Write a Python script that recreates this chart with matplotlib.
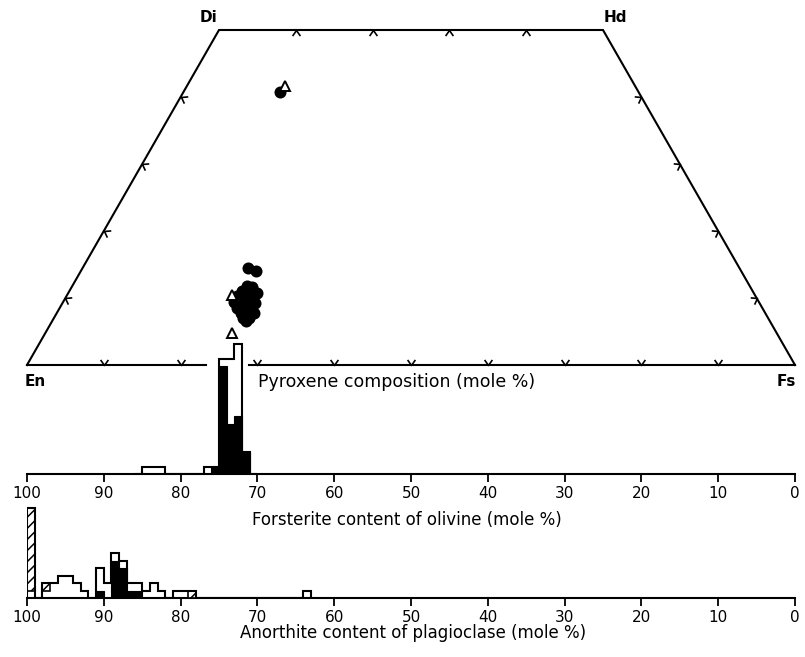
import numpy as np
import matplotlib
matplotlib.use("Agg")
import matplotlib.pyplot as plt
from matplotlib.markers import MarkerStyle
from matplotlib.path import Path
from matplotlib.transforms import Affine2D

# ---------------- data ----------------
# Pyroxene analyses (mole %): Wo and Fs
pyx_dot_wo = [11.8, 11.6, 11.0, 10.9, 10.8, 10.3, 10.2, 10.0, 9.4, 9.4, 9.3, 9.3,
              8.5, 8.5, 8.4, 7.8, 7.6, 7.8, 7.0, 7.0, 6.6, 14.5, 14.0, 40.7,
              10.6, 9.8, 9.0, 8.1, 7.3, 11.3]
pyx_dot_fs = [22.8, 23.5, 22.5, 23.6, 24.5, 22.2, 23.3, 24.4, 22.3, 23.2, 24.3, 25.1,
              23.1, 24.0, 25.0, 23.9, 24.8, 25.6, 24.6, 25.4, 25.2, 21.5, 22.8, 12.6,
              23.0, 23.8, 23.6, 24.4, 25.0, 23.0]
pyx_tri_wo = [41.6, 10.5, 4.8]
pyx_tri_fs = [12.8, 21.5, 24.3]

# Olivine histogram: bin lower edge (Fo), stacked counts
fo_bin = [71, 72, 73, 74, 75, 76, 82, 83, 84]
fo_black = [3, 8, 7, 15, 1, 0, 0, 0, 0]
fo_white = [0, 10, 9, 1, 0, 1, 1, 1, 1]

# Plagioclase histogram: bin lower edge (An), stacked counts
an_bin = [99, 97, 96, 95, 94, 93, 92, 90, 89, 88, 87, 86, 85, 84, 83, 82, 80, 79, 78, 63]
an_black = [0, 0, 0, 0, 0, 0, 0, 1, 0, 5, 4, 1, 1, 0, 0, 0, 0, 0, 0, 0]
an_white = [1, 1, 2, 3, 3, 2, 1, 3, 2, 1, 1, 1, 1, 1, 2, 1, 1, 1, 0, 1]
an_hatch = [11, 1, 0, 0, 0, 0, 0, 0, 0, 0, 0, 0, 0, 0, 0, 0, 0, 0, 1, 0]

scale_ticks = [100, 90, 80, 70, 60, 50, 40, 30, 20, 10, 0]

# ---------------- figure ----------------
W, H = 805, 657
fig = plt.figure(figsize=(W / 100, H / 100), dpi=100)
fig.patch.set_facecolor("white")
plt.rcParams["hatch.linewidth"] = 1.1


def rect(x0, ytop, x1, ybot):
    return [x0 / W, 1 - ybot / H, (x1 - x0) / W, (ybot - ytop) / H]


FS = 11
FT = 12
LW = 1.5

# ---- pyroxene quadrilateral ----
axp = fig.add_axes(rect(27, 30, 795, 365))
axp.set_xlim(0, 100)
axp.set_ylim(0, 50)
axp.axis("off")
axp.plot([0, 25, 75, 100], [0, 50, 50, 0], color="black", lw=LW,
         solid_joinstyle="miter", clip_on=False)
axp.plot([0, 23.3], [0, 0], color="black", lw=LW, clip_on=False)
axp.plot([28.9, 100], [0, 0], color="black", lw=LW, clip_on=False)

chev = Path([(-0.7, 1), (0, 0), (0.7, 1)], [Path.MOVETO, Path.LINETO, Path.LINETO])


def chev_marker(angle):
    return MarkerStyle(chev, fillstyle="none", transform=Affine2D().rotate_deg(angle))


pxx = 768 / 100.0
pxy = 335 / 50.0
side_ang = np.degrees(np.arctan2(-25 * pxx, 50 * pxy))  # inward normal of left side
wo_side = np.array([10, 20, 30, 40])
tick_sets = [
    (np.arange(10, 100, 10), np.zeros(9), 0),
    (np.array([35, 45, 55, 65]), np.full(4, 50), 180),
    (wo_side / 2, wo_side, side_ang - 90),
    (100 - wo_side / 2, wo_side, -(side_ang - 90)),
]
for xs, ys, ang in tick_sets:
    axp.plot(xs, ys, linestyle="none", marker=chev_marker(ang), markersize=8,
             markeredgecolor="black", markeredgewidth=1.2, clip_on=False)

dwo = np.array(pyx_dot_wo)
dfs = np.array(pyx_dot_fs)
axp.scatter(dfs + dwo / 2, dwo, s=75, color="black", linewidths=0, zorder=5, clip_on=False)
two = np.array(pyx_tri_wo)
tfs = np.array(pyx_tri_fs)
axp.plot(tfs + two / 2, two, linestyle="none", marker="^", markersize=6.5,
         markerfacecolor="white", markeredgecolor="black", markeredgewidth=1.4,
         zorder=6, clip_on=False)

fig.text(35 / W, 1 - 381 / H, "En", ha="center", va="center", fontsize=FS, fontweight="bold")
fig.text(786 / W, 1 - 381 / H, "Fs", ha="center", va="center", fontsize=FS, fontweight="bold")
fig.text(208 / W, 1 - 18 / H, "Di", ha="center", va="center", fontsize=FS, fontweight="bold")
fig.text(615 / W, 1 - 18 / H, "Hd", ha="center", va="center", fontsize=FS, fontweight="bold")
fig.text(258 / W, 1 - 382 / H, "Pyroxene composition (mole %)", ha="left", va="center",
         fontsize=12.5)


# ---- histogram helper ----
def histo(ax, bins, black, white, hatch, lo, hi):
    edges = np.arange(lo, hi + 1)
    n = len(edges) - 1
    tb = np.zeros(n)
    tw = np.zeros(n)
    th = np.zeros(n)
    for b, k, w, h in zip(bins, black, white, hatch):
        i = b - lo
        tb[i] += k
        tw[i] += w
        th[i] += h
    tot = tb + tw + th
    centers = edges[:-1] + 0.5
    ax.stairs(tot, edges, baseline=0, fill=True, facecolor="white", edgecolor="none", zorder=1)
    ax.bar(centers, tb, width=1, color="black", edgecolor="black", lw=0.8, zorder=2)
    m = th > 0
    ax.bar(centers[m], th[m], bottom=(tb + tw)[m], width=1, facecolor="white",
           edgecolor="black", hatch="///", lw=1.2, zorder=3)
    ax.stairs(tot, edges, baseline=0, fill=False, color="black", lw=LW, zorder=4)


def scale_axis(ax):
    ax.set_xlim(100, 0)
    ax.set_facecolor("none")
    for s in ["top", "left", "right"]:
        ax.spines[s].set_visible(False)
    ax.spines["bottom"].set_linewidth(LW)
    ax.set_yticks([])
    ax.set_xticks(scale_ticks)
    ax.set_xticklabels([str(t) for t in scale_ticks])
    ax.tick_params(axis="x", direction="out", length=6, width=1.3, pad=3, labelsize=FS)


# ---- olivine ----
axo = fig.add_axes(rect(27, 474 - 20 * 7.2, 795, 474))
axo.set_ylim(0, 20)
scale_axis(axo)
histo(axo, fo_bin, fo_black, fo_white, [0] * len(fo_bin), 70, 86)
fig.text(407 / W, 1 - 520 / H, "Forsterite content of olivine (mole %)", ha="center",
         va="center", fontsize=FT)

# ---- plagioclase ----
axa = fig.add_axes(rect(27, 598 - 14 * 7.5, 795, 598))
axa.set_ylim(0, 14)
scale_axis(axa)
histo(axa, an_bin, an_black, an_white, an_hatch, 63, 100)
fig.text(413 / W, 1 - 633 / H, "Anorthite content of plagioclase (mole %)", ha="center",
         va="center", fontsize=FT)

fig.savefig("out.png", dpi=100)
